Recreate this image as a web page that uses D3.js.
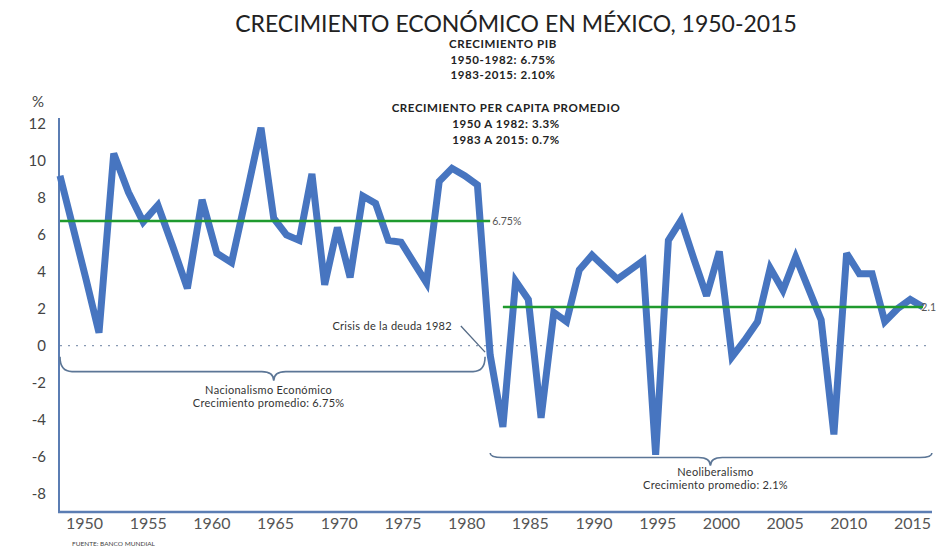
<!DOCTYPE html>
<html>
<head>
<meta charset="utf-8">
<script src="https://cdn.jsdelivr.net/npm/d3@7"></script>
<style>
  body { margin: 0; background: #fff; }
  svg { display: block; font-family: Lato, "Open Sans", sans-serif; }
</style>
</head>
<body>
<svg id="chart" width="938" height="547"></svg>
<script>
// years and growth values (%)
var years = [1950, 1951, 1952, 1953, 1954, 1955, 1956, 1957, 1958, 1959,
             1960, 1961, 1962, 1963, 1964, 1965, 1966, 1967, 1968, 1969,
             1970, 1971, 1972, 1973, 1974, 1975, 1976, 1977, 1978, 1979,
             1980, 1981, 1982, 1983, 1984, 1985, 1986, 1987, 1988, 1989,
             1990, 1991, 1992, 1993, 1994, 1995, 1996, 1997, 1998, 1999,
             2000, 2001, 2002, 2003, 2004, 2005, 2006, 2007, 2008, 2009,
             2010, 2011, 2012, 2013, 2014, 2015, 2016];
var growth = [9.2, 6.4, 3.6, 0.7, 10.4, 8.3, 6.7, 7.6, 5.4, 3.1,
              7.9, 5.0, 4.5, 8.1, 11.8, 6.9, 6.0, 5.7, 9.3, 3.3,
              6.4, 3.7, 8.1, 7.7, 5.7, 5.6, 4.5, 3.4, 8.9, 9.6,
              9.2, 8.7, -0.5, -4.4, 3.5, 2.5, -3.9, 1.8, 1.3, 4.1,
              4.9, 4.25, 3.6, 4.1, 4.6, -5.9, 5.7, 6.8, 4.7, 2.7,
              5.1, -0.6, 0.3, 1.3, 4.2, 3.0, 4.8, 3.1, 1.4, -4.8,
              5.0, 3.9, 3.9, 1.3, 2.0, 2.5, 2.1];

var xTickLabels = ['1950', '1955', '1960', '1965', '1970', '1975', '1980',
                   '1985', '1990', '1995', '2000', '2005', '2010', '2015'];
var yTicks = [12, 10, 8, 6, 4, 2, 0, -2, -4, -6, -8];

// period averages (green lines)
var avgPeriods = [[1950, 1982], [1983, 2016]];
var avgValues = [6.75, 2.1];
var avgLabels = ['6.75%', '2.1'];

var titleText = 'CRECIMIENTO ECONÓMICO EN MÉXICO, 1950-2015';
var subLines1 = ['CRECIMIENTO PIB', '1950-1982: 6.75%', '1983-2015: 2.10%'];
var subLines2 = ['CRECIMIENTO PER CAPITA  PROMEDIO', '1950 A 1982: 3.3%', '1983 A 2015: 0.7%'];

// braces: [startYear, endYear, tipYear, endValue, armValue, tipValue]
var braces = [[1950, 1981.6, 1965, -0.6, -1.4, -1.9],
              [1982, 2016.7, 1999.3, -5.8, -6.05, -6.5]];
var braceText = [['Nacionalismo  Económico', 'Crecimiento  promedio: 6.75%'],
                 ['Neoliberalismo', 'Crecimiento  promedio: 2.1%']];
var braceTextPos = [[1964.6, -2.6], [1999.7, -7.05]];

var svg = d3.select('#chart');
var W = +svg.attr('width');

var x = d3.scaleLinear()
  .domain([1950, 1953, 1964, 2016])
  .range([60, 99, 261, 923]);
var y = d3.scaleLinear().domain([-9, 12]).range([512, 124]);
var xLab = d3.scalePoint().domain(xTickLabels).range([84, 912]);

var axisColor = '#5b7db3';

// title block
svg.append('text')
  .attr('x', 516).attr('y', 32)
  .attr('text-anchor', 'middle')
  .attr('font-size', '23px')
  .attr('fill', '#222')
  .text(titleText);

svg.selectAll('.sub1').data(subLines1).enter().append('text')
  .attr('x', 503).attr('y', (d, i) => 48 + i * 15.5)
  .attr('text-anchor', 'middle')
  .attr('font-size', '11.5px').attr('font-weight', 'bold')
  .attr('letter-spacing', '0.6px')
  .attr('fill', '#222')
  .text(d => d);

svg.selectAll('.sub2').data(subLines2).enter().append('text')
  .attr('x', 506).attr('y', (d, i) => 112 + i * 16)
  .attr('text-anchor', 'middle')
  .attr('font-size', '11.5px').attr('font-weight', 'bold')
  .attr('letter-spacing', '0.6px')
  .attr('fill', '#222')
  .text(d => d);

// % label
svg.append('text')
  .attr('x', 38).attr('y', 107)
  .attr('text-anchor', 'middle')
  .attr('font-size', '15px').attr('fill', '#444')
  .text('%');

// y axis
var yAxis = svg.append('g')
  .attr('transform', 'translate(' + x(1950) + ',0)')
  .call(d3.axisLeft(y).tickValues(yTicks).tickSize(0).tickPadding(14)
    .tickFormat(d => String(d)));
yAxis.select('.domain').remove();
yAxis.selectAll('text')
  .attr('font-family', 'Lato, sans-serif')
  .attr('font-size', '15px')
  .attr('fill', '#444');

svg.append('line')
  .attr('x1', x(1950) - 1).attr('x2', x(1950) - 1)
  .attr('y1', y(12) - 6).attr('y2', y(-9))
  .attr('stroke', axisColor).attr('stroke-width', 2);

// x axis
var xAxis = svg.append('g')
  .attr('transform', 'translate(0,' + y(-9) + ')')
  .call(d3.axisBottom(xLab).tickSize(0).tickPadding(6));
xAxis.select('.domain').remove();
xAxis.selectAll('text')
  .attr('font-family', 'Lato, sans-serif')
  .attr('font-size', '16px')
  .attr('fill', '#555');

svg.append('line')
  .attr('x1', x(1950) - 2).attr('x2', 932)
  .attr('y1', y(-9)).attr('y2', y(-9))
  .attr('stroke', axisColor).attr('stroke-width', 2.5);

// zero line
svg.append('line')
  .attr('x1', x(1950)).attr('x2', 932)
  .attr('y1', y(0)).attr('y2', y(0))
  .attr('stroke', '#8799b3').attr('stroke-width', 1.3)
  .attr('stroke-dasharray', '2,6');

// brace annotations
function bracePath(b) {
  var x1 = x(b[0]), x2 = x(b[1]), xm = x(b[2]);
  var ye = y(b[3]), ya = y(b[4]), yt = y(b[5]);
  var r = 12;
  return 'M' + x1 + ',' + ye +
    'Q' + x1 + ',' + ya + ' ' + (x1 + r) + ',' + ya +
    'L' + (xm - r) + ',' + ya +
    'Q' + xm + ',' + ya + ' ' + xm + ',' + yt +
    'Q' + xm + ',' + ya + ' ' + (xm + r) + ',' + ya +
    'L' + (x2 - r) + ',' + ya +
    'Q' + x2 + ',' + ya + ' ' + x2 + ',' + ye;
}

svg.selectAll('.brace').data(braces).enter().append('path')
  .attr('d', bracePath)
  .attr('fill', 'none')
  .attr('stroke', '#5c7696')
  .attr('stroke-width', 1.6);

braceText.forEach(function(lines, k) {
  svg.selectAll('.bt' + k).data(lines).enter().append('text')
    .attr('x', x(braceTextPos[k][0]))
    .attr('y', (d, i) => y(braceTextPos[k][1]) + i * 13.5)
    .attr('text-anchor', 'middle')
    .attr('font-size', '11px')
    .attr('letter-spacing', '0.3px')
    .attr('fill', '#333')
    .text(d => d);
});

// crisis note
svg.append('text')
  .attr('x', x(1979)).attr('y', y(1.07))
  .attr('dy', '0.35em')
  .attr('text-anchor', 'end')
  .attr('font-size', '11px')
  .attr('letter-spacing', '0.3px')
  .attr('fill', '#333')
  .text('Crisis  de la deuda 1982');
svg.append('line')
  .attr('x1', x(1979.7)).attr('y1', y(1.07))
  .attr('x2', x(1981.6)).attr('y2', y(-0.35))
  .attr('stroke', '#556a85').attr('stroke-width', 1.3);

// growth line
var lineGen = d3.line()
  .x((d, i) => x(years[i]))
  .y(d => y(d));

svg.append('path')
  .datum(growth)
  .attr('d', lineGen)
  .attr('fill', 'none')
  .attr('stroke', '#4775c0')
  .attr('stroke-width', 7)
  .attr('stroke-linejoin', 'miter')
  .attr('stroke-miterlimit', 3);

// average lines
svg.selectAll('.avg').data(avgValues).enter().append('line')
  .attr('x1', (d, i) => x(avgPeriods[i][0]))
  .attr('x2', (d, i) => x(avgPeriods[i][1]))
  .attr('y1', d => y(d)).attr('y2', d => y(d))
  .attr('stroke', '#1f9a2e').attr('stroke-width', 2.5);

svg.selectAll('.avglab').data(avgValues).enter().append('text')
  .attr('x', (d, i) => x(avgPeriods[i][1]) + 2)
  .attr('y', d => y(d))
  .attr('dy', '0.35em')
  .attr('font-size', '10.5px')
  .attr('fill', '#555')
  .text((d, i) => avgLabels[i])
  .each(function() {
    // keep the label inside the picture
    var len = this.getComputedTextLength();
    var x0 = +d3.select(this).attr('x');
    if (x0 + len > W - 2) d3.select(this).attr('x', W - 2 - len);
  });

// source
svg.append('text')
  .attr('x', 72).attr('y', 546)
  .attr('font-size', '6.5px')
  .attr('fill', '#444')
  .text('FUENTE: BANCO MUNDIAL');
</script>
</body>
</html>
